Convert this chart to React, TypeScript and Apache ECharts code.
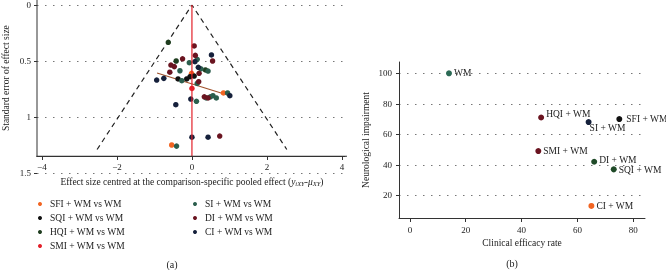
import { useEffect, useRef } from "react";
import * as echarts from "echarts";

const FONT = "'Liberation Serif', 'DejaVu Serif', serif";

// ---------- Panel (a): comparison-adjusted funnel plot ----------
const groupNames = [
  "SFI + WM vs WM",
  "SQI + WM vs WM",
  "HQI + WM vs WM",
  "SMI + WM vs WM",
  "SI + WM vs WM",
  "DI + WM vs WM",
  "CI + WM vs WM",
];
const groupColors = ["#f26522", "#111111", "#1f3d1f", "#e3202a", "#2b5e4d", "#6a1420", "#15203b"];

const sfiPoints = [[-0.01, 0.61], [0.84, 0.785], [-0.54, 1.25]];
const sqiPoints = [[-0.05, 0.64], [0.06, 0.634], [-0.37, 0.66], [-0.14, 0.66]];
const hqiPoints = [[-0.63, 0.333], [-0.42, 0.5], [0.36, 0.58]];
const smiPoints = [[0, 0.745]];
const siPoints = [
  [-0.07, 0.515], [0.14, 0.485], [-0.32, 0.587], [0.24, 0.57], [0.43, 0.59],
  [-0.27, 0.676], [0.14, 0.7], [0.95, 0.785], [0.49, 0.82], [0.56, 0.81],
  [0.65, 0.83], [0.38, 0.83], [0.12, 0.86], [-0.41, 1.26],
];
const diPoints = [
  [0.06, 0.366], [0.09, 0.45], [0.55, 0.5], [-0.25, 0.48], [-0.56, 0.536],
  [-0.47, 0.55], [0.19, 0.61], [-0.59, 0.6], [0.18, 0.685], [0.33, 0.82],
  [0.43, 0.83], [0.74, 1.17],
];
const ciPoints = [
  [0.52, 0.446], [0.08, 0.506], [0.17, 0.556], [-0.94, 0.67], [-0.75, 0.655],
  [1.01, 0.81], [-0.03, 0.84], [-0.43, 0.89], [0, 1.18], [0.43, 1.18],
];
const groupPoints = [sfiPoints, sqiPoints, hqiPoints, smiPoints, siPoints, diPoints, ciPoints];

const funnelBottomSE = 1.29;
const funnelZ = 1.96;
const regressionLine = [[-0.93, 0.607], [1.01, 0.81]];
const xTicksA = [-4, -2, 0, 2, 4];
const X_MIN_A = -4.13;
const X_MAX_A = 4.08;
const AXIS_BOTTOM_SE = 1.35;

// ---------- Panel (b): efficacy vs neurological impairment ----------
const treatments = ["WM", "HQI + WM", "SI + WM", "SFI + WM", "SMI + WM", "DI + WM", "SQI + WM", "CI + WM"];
const efficacyRate = [14, 47, 64, 75, 46, 66, 73, 65];
const neuroImpairment = [100, 71, 68, 70, 49, 42, 37, 13];
const treatmentColors = ["#2b6a55", "#6a1420", "#15203b", "#111111", "#6a1420", "#1f4a28", "#1f4a28", "#f26522"];
const xTicksB = [0, 20, 40, 60, 80];
const yTicksB = [20, 40, 60, 80, 100];

const labelOffsets: Record<string, number[]> = {
  "HQI + WM": [0, -4],
  "SI + WM": [-4, 6],
  "SFI + WM": [2, 0],
  "DI + WM": [0, -2],
  "SQI + WM": [0, 1],
};

const axisColor = "#333";
const gridLine = { show: true, lineStyle: { color: "#777", type: [1.5, 6.5], width: 1 } };
const tickLabel = { fontFamily: FONT, fontSize: 9, color: "#222" };

function buildOption(): any {
  const funnel = [
    [-funnelZ * funnelBottomSE, funnelBottomSE],
    [0, 0],
    [funnelZ * funnelBottomSE, funnelBottomSE],
  ];
  const series: any[] = [
    {
      type: "line", xAxisIndex: 0, yAxisIndex: 0, data: funnel, symbol: "none", silent: true,
      lineStyle: { color: "#222", width: 1.2, type: [5, 4] }, z: 2,
    },
    {
      type: "line", xAxisIndex: 0, yAxisIndex: 0, data: regressionLine, symbol: "none", silent: true,
      lineStyle: { color: "#a0522d", width: 1.2 }, z: 2,
    },
    {
      type: "line", xAxisIndex: 0, yAxisIndex: 0, data: [[0, 0], [0, AXIS_BOTTOM_SE]], symbol: "none", silent: true,
      lineStyle: { color: "#e3202a", width: 1.2 }, z: 4,
    },
  ];
  groupNames.forEach((name, i) => {
    series.push({
      type: "scatter", name, xAxisIndex: 0, yAxisIndex: 0, data: groupPoints[i],
      symbol: "circle", symbolSize: 5.5, itemStyle: { color: groupColors[i], opacity: 1 }, z: 3,
    });
  });
  series.push({
    type: "scatter", name: "treatments", xAxisIndex: 1, yAxisIndex: 1,
    symbol: "circle", symbolSize: 6,
    data: treatments.map((t, i) => ({
      name: t,
      value: [efficacyRate[i], neuroImpairment[i]],
      itemStyle: { color: treatmentColors[i], opacity: 1 },
      label: { offset: labelOffsets[t] || [0, 0] },
    })),
    label: {
      show: true, position: "right", distance: 2, formatter: "{b}",
      fontFamily: FONT, fontSize: 9.5, color: "#222",
    },
  });

  return {
    animation: false,
    textStyle: { fontFamily: FONT },
    grid: [
      { left: 37, top: 5, width: 308, height: 168 },
      { left: 399, top: 62, width: 246, height: 156 },
    ],
    xAxis: [
      {
        type: "value", gridIndex: 0, min: X_MIN_A, max: X_MAX_A, offset: -17,
        axisLine: { show: true, onZero: false, lineStyle: { color: axisColor, width: 1 } },
        axisTick: { show: true, length: 4, customValues: xTicksA, lineStyle: { color: axisColor } },
        axisLabel: { ...tickLabel, margin: 6, customValues: xTicksA, formatter: (v: number) => (v < 0 ? "\u2212" + Math.abs(v) : String(v)) },
        splitLine: { show: false },
      },
      {
        type: "value", gridIndex: 1, min: -3.9, max: 84.2,
        axisLine: { show: true, onZero: false, lineStyle: { color: axisColor, width: 1 } },
        axisTick: { show: true, length: 4, customValues: xTicksB, lineStyle: { color: axisColor } },
        axisLabel: { ...tickLabel, margin: 7, customValues: xTicksB },
        splitLine: { show: false },
      },
    ],
    yAxis: [
      {
        type: "value", gridIndex: 0, min: 0, max: 1.5, interval: 0.5, inverse: true,
        axisLine: { show: false, onZero: false },
        axisTick: { show: true, length: 3, lineStyle: { color: axisColor } },
        axisLabel: { ...tickLabel, margin: 6 },
        splitLine: gridLine,
      },
      {
        type: "value", gridIndex: 1, min: 5.1, max: 107.4,
        axisLine: { show: true, onZero: false, lineStyle: { color: axisColor, width: 1 } },
        axisTick: { show: true, length: 3, customValues: yTicksB, lineStyle: { color: axisColor } },
        axisLabel: { ...tickLabel, margin: 7, customValues: yTicksB },
        splitLine: gridLine,
      },
    ],
    legend: [
      {
        data: groupNames.slice(0, 4), left: 33, top: 194, orient: "vertical",
        icon: "circle", itemWidth: 10, itemHeight: 4, itemGap: 4, selectedMode: false,
        textStyle: { fontFamily: FONT, fontSize: 9.5, color: "#222", lineHeight: 10 },
      },
      {
        data: groupNames.slice(4), left: 188, top: 194, orient: "vertical",
        icon: "circle", itemWidth: 10, itemHeight: 4, itemGap: 4, selectedMode: false,
        textStyle: { fontFamily: FONT, fontSize: 9.5, color: "#222", lineHeight: 10 },
      },
    ],
    series,
  };
}

export default function App() {
  const ref = useRef<HTMLDivElement>(null);
  useEffect(() => {
    if (!ref.current) return;
    const chart = echarts.init(ref.current, null, { renderer: "svg" });
    chart.setOption(buildOption());
    const pBottomLeft = chart.convertToPixel({ gridIndex: 0 }, [X_MIN_A, AXIS_BOTTOM_SE]) as number[];
    const pBottomRight = chart.convertToPixel({ gridIndex: 0 }, [X_MAX_A, AXIS_BOTTOM_SE]) as number[];
    const pTop = chart.convertToPixel({ gridIndex: 0 }, [0, 0]) as number[];
    const titleStyle = { fontFamily: FONT, fontSize: 9.5, fill: "#222" };
    chart.setOption({
      graphic: [
        {
          type: "rect", silent: true, z: 10,
          shape: { x: pBottomLeft[0] - 0.5, y: 0, width: 1, height: pBottomLeft[1] + 0.5 },
          style: { fill: axisColor },
        },
        {
          type: "rect", silent: true, z: 10,
          shape: { x: pBottomLeft[0] - 0.5, y: pBottomLeft[1] - 0.5, width: pBottomRight[0] + 2.5 - pBottomLeft[0], height: 1 },
          style: { fill: axisColor },
        },
        {
          type: "text", x: 6, y: pBottomLeft[1] / 2, rotation: Math.PI / 2,
          style: { ...titleStyle, text: "Standard error of effect size", align: "center", verticalAlign: "middle" },
        },
        {
          type: "text", x: pTop[0], y: 182,
          style: {
            ...titleStyle,
            text: "Effect size centred at the comparison-specific pooled effect ({i|y}{s|iXY}{i|-\u03bc}{s|XY}{n|)}",
            align: "center", verticalAlign: "middle",
            rich: {
              i: { fontFamily: FONT, fontSize: 9.5, fontStyle: "italic", fill: "#222" },
              s: { fontFamily: FONT, fontSize: 6.5, fontStyle: "italic", fill: "#222", verticalAlign: "bottom", padding: [3, 0, 0, 0] },
              n: { fontFamily: FONT, fontSize: 9.5, fill: "#222" },
            },
          },
        },
        {
          type: "text", x: 366, y: 140, rotation: Math.PI / 2,
          style: { ...titleStyle, text: "Neurological impairment", align: "center", verticalAlign: "middle" },
        },
        {
          type: "text", x: 522, y: 243,
          style: { ...titleStyle, text: "Clinical efficacy rate", align: "center", verticalAlign: "middle" },
        },
        {
          type: "text", x: 172, y: 264,
          style: { ...titleStyle, fontSize: 10, text: "(a)", align: "center", verticalAlign: "middle" },
        },
        {
          type: "text", x: 512, y: 263,
          style: { ...titleStyle, fontSize: 10, text: "(b)", align: "center", verticalAlign: "middle" },
        },
      ],
    });
    return () => chart.dispose();
  }, []);
  return <div ref={ref} style={{ position: "fixed", left: 0, top: 0, width: 666, height: 270 }} />;
}
